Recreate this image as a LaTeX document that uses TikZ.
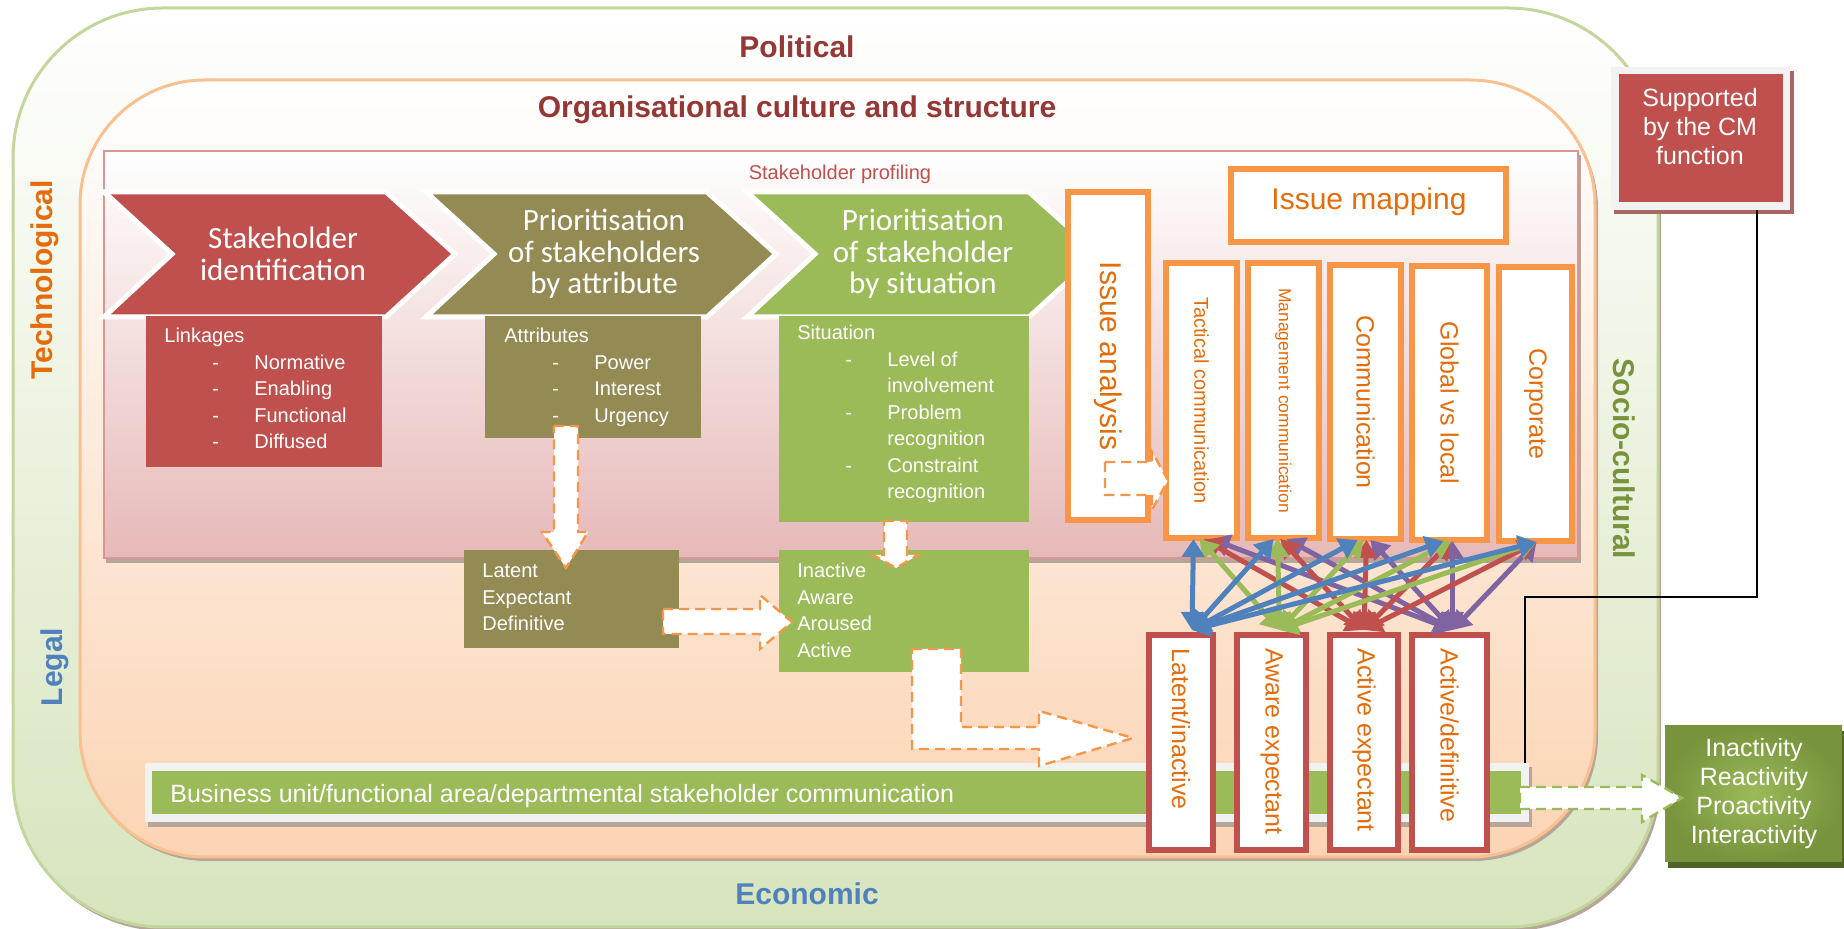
\documentclass[tikz,border=0pt]{standalone}
\usepackage{fontspec}
\setmainfont{Liberation Sans}
\newfontfamily\calib{Carlito}
\usetikzlibrary{arrows.meta,calc}
\definecolor{cred}{HTML}{C0504D}
\definecolor{colive}{HTML}{948A54}
\definecolor{cgreen}{HTML}{9BBB59}
\definecolor{cdgreen}{HTML}{77933C}
\definecolor{corange}{HTML}{F79646}
\definecolor{ctxt}{HTML}{E46C0A}
\definecolor{cblue}{HTML}{4F81BD}
\definecolor{cpurple}{HTML}{8064A2}
\definecolor{cdred}{HTML}{953735}
\definecolor{lgreen}{HTML}{D7E4BD}
\definecolor{lgreenb}{HTML}{C3D69B}
\definecolor{lpeach}{HTML}{FBD4B4}
\definecolor{lpeachb}{HTML}{FAC090}
\definecolor{lpink}{HTML}{E6B9B8}
\definecolor{lpinkb}{HTML}{D99694}
\definecolor{shadc}{HTML}{B5A699}
\definecolor{framec}{HTML}{F2F2F2}
\definecolor{redshad}{HTML}{A86664}
\definecolor{dkgreen}{HTML}{4F6228}
\newcommand\dl{\hspace*{24pt}\makebox[21pt][l]{-}}
\newcommand\dn{\hspace*{45pt}}
\begin{document}
\begin{tikzpicture}[x=0.5pt,y=-0.5pt,
  obox/.style={draw=corange, line width=3pt, fill=white, inner sep=0pt},
  rbox/.style={draw=cred, line width=3pt, fill=white, inner sep=0pt},
  vtext/.style={text=ctxt, rotate=-90, inner sep=0pt},
  ttl/.style={text=white, font=\calib\fontsize{15.5pt}{15.75pt}\selectfont, align=center, inner sep=0pt},
  lst/.style={text=white, anchor=base west, inner sep=0pt, font=\fontsize{10pt}{13.25pt}\selectfont},
  band/.style={font=\bfseries\fontsize{15pt}{15pt}\selectfont, inner sep=0pt, anchor=base},
  blk/.style={fill=white, draw=corange, line width=1.2pt, dash pattern=on 5pt off 3pt, line join=miter},
  gblk/.style={fill=white, draw=cgreen, line width=1.2pt, dash pattern=on 5pt off 3pt, line join=miter},
  panel/.style={inner sep=0pt, outer sep=0pt},
  chev/.style={draw=white, line width=2.5pt, line join=miter},
  net/.style={line width=2.5pt, >={Triangle[length=9pt,width=11pt]}, <->},
  sz/.style={font=\fontsize{#1pt}{#1pt}\selectfont}
]
\useasboundingbox (0,0) rectangle (1844,929);

% ---- containers ----
\fill[shadc,rounded corners=75pt] (15,12) rectangle (1661,931);
\shadedraw[top color=white,bottom color=lgreen,draw=lgreenb,line width=1.5pt,rounded corners=75pt] (13,8) rectangle (1658,927);
\fill[shadc,rounded corners=62.5pt] (82,84) rectangle (1598,861);
\shadedraw[top color=white,bottom color=lpeach,draw=lpeachb,line width=1.5pt,rounded corners=62.5pt] (80,80) rectangle (1595,857);
\fill[shadc] (106,155) rectangle (1581,563);
\shadedraw[top color=white,bottom color=lpink,draw=lpinkb,line width=0.75pt] (104,151) rectangle (1578,558);

% ---- PESTLE labels ----
\node[band,text=cdred] (pol) at (797,58) {Political};
\node[band,text=cdred] (org) at (797,118) {Organisational culture and structure};
\node[band,text=ctxt,rotate=90] (tech) at (52,280) {Technological};
\node[band,text=cblue,rotate=90] (leg) at (62,667) {Legal};
\node[band,text=cblue] (eco) at (807,905) {Economic};
\node[band,text=cdgreen,rotate=-90] (soc) at (1613,459) {Socio-cultural};
\node[sz=10,text=cred,anchor=base,inner sep=0pt] (prof) at (840,180) {Stakeholder profiling};

% ---- chevrons ----
\fill[cred,chev] (104,192) -- (386,192) -- (455,254) -- (386,317) -- (104,317) -- (172,254) -- cycle;
\fill[colive,chev] (426,192) -- (707,192) -- (776,254) -- (707,317) -- (426,317) -- (494,254) -- cycle;
\fill[cgreen,chev] (747,192) -- (1029,192) -- (1098,254) -- (1029,317) -- (747,317) -- (815,254) -- cycle;
\node[panel,fill=cred,minimum width=118pt,minimum height=75.5pt] (r1) at (264,391.5) {};
\node[panel,fill=colive,minimum width=108pt,minimum height=61pt] (r2) at (593,377) {};
\node[panel,fill=cgreen,minimum width=125pt,minimum height=103pt] (r3) at (904,419) {};
\node[ttl] (t1) at (283,254) {Stakeholder\\identification};
\node[ttl] (t2) at (604,254) {Prioritisation\\of stakeholders\\by attribute};
\node[ttl] (t3) at (923,254) {Prioritisation\\of stakeholder\\by situation};
\node[lst] (l1) at (164,343) {\begin{tabular}[t]{@{}l@{}}Linkages\\ \dl Normative\\ \dl Enabling\\ \dl Functional\\ \dl Diffused\end{tabular}};
\node[lst] (l2) at (504,343) {\begin{tabular}[t]{@{}l@{}}Attributes\\ \dl Power\\ \dl Interest\\ \dl Urgency\end{tabular}};
\node[lst] (l3) at (797,340) {\begin{tabular}[t]{@{}l@{}}Situation\\ \dl Level of\\ \dn involvement\\ \dl Problem\\ \dn recognition\\ \dl Constraint\\ \dn recognition\end{tabular}};

% ---- second row boxes ----
\node[panel,fill=colive,minimum width=107.5pt,minimum height=49pt] (latb) at (571.5,599) {};
\node[panel,fill=cgreen,minimum width=125pt,minimum height=61pt] (inab) at (904,611) {};
\node[lst] (l4) at (482,578) {\begin{tabular}[t]{@{}l@{}}Latent\\ Expectant\\ Definitive\end{tabular}};
\node[lst] (l5) at (797,578) {\begin{tabular}[t]{@{}l@{}}Inactive\\ Aware\\ Aroused\\ Active\end{tabular}};

% ---- business unit bar ----
\fill[shadc] (148,767) rectangle (1532,827);
\node[panel,fill=framec,minimum width=692pt,minimum height=29.5pt] (barf) at (837,792.5) {};
\node[panel,fill=cgreen,minimum width=684.5pt,minimum height=21.5pt] (bar) at (836.5,792.5) {};
\node[text=white,sz=12.5,anchor=base west,inner sep=0pt] (bart) at (170,803) {Business unit/functional area/departmental stakeholder communication};

% ---- issue boxes ----
\node[obox,minimum width=40pt,minimum height=164pt] (ia) at (1108,356) {};
\node[vtext,sz=15] (iat) at (ia.center) {Issue analysis};
\node[obox,minimum width=137.5pt,minimum height=36.5pt] (im) at (1368.5,205.5) {};
\node[text=ctxt,sz=15,anchor=base,inner sep=0pt] (imt) at (1369,210) {Issue mapping};
\node[obox,minimum width=35.5pt,minimum height=137.5pt] (tac) at (1201.5,400.5) {};
\node[obox,minimum width=35.5pt,minimum height=137.5pt] (man) at (1283.5,400.5) {};
\node[obox,minimum width=35.5pt,minimum height=137pt] (com) at (1365.5,402) {};
\node[obox,minimum width=37.5pt,minimum height=137pt] (glo) at (1449.5,403) {};
\node[obox,minimum width=36.5pt,minimum height=137pt] (cor) at (1535.5,404) {};
\node[vtext,sz=10] (tact) at (tac.center) {Tactical communication};
\node[vtext,sz=8.75] (mant) at (man.center) {Management communication};
\node[vtext,sz=12.5] (comt) at (com.center) {Communication};
\node[vtext,sz=12.5] (glot) at (glo.center) {Global vs local};
\node[vtext,sz=12.5] (cort) at (cor.center) {Corporate};

% ---- stakeholder type boxes ----
\node[rbox,minimum width=32pt,minimum height=107.5pt] (lat) at (1181,742.5) {};
\node[rbox,minimum width=34.5pt,minimum height=107.5pt] (awa) at (1271.5,742.5) {};
\node[rbox,minimum width=34pt,minimum height=107.5pt] (ace) at (1364,742.5) {};
\node[rbox,minimum width=37.5pt,minimum height=107.5pt] (acd) at (1449.5,742.5) {};
\node[vtext,sz=12.5,anchor=west] (latt) at (1181,648) {Latent/inactive};
\node[vtext,sz=12.5,anchor=west] (awat) at (1271.5,648) {Aware expectant};
\node[vtext,sz=12.5,anchor=west] (acet) at (1364,648) {Active expectant};
\node[vtext,sz=12.5,anchor=west] (acdt) at (1449.5,648) {Active/definitive};

% ---- network of links ----
\foreach \t/\o in {tac/10,man/3,com/5,glo/3,cor/1}
  \draw[net,cpurple] ($(acd.north)+(3,-2)$) -- ($(\t.south)+(\o,-2)$);
\foreach \t/\o in {tac/2,man/-3,com/1,glo/2,cor/1}
  \draw[net,cred] ($(ace.north)+(0,-2)$) -- ($(\t.south)+(\o,-2)$);
\foreach \t/\o in {tac/-2,man/-6,com/-2,glo/2,cor/1}
  \draw[net,cgreen] ($(awa.north)+(8,-2)$) -- ($(\t.south)+(\o,-2)$);
\foreach \t/\o in {tac/-8,man/-10,com/-8,glo/-6,cor/1}
  \draw[net,cblue] ($(lat.north)+(11,-2)$) -- ($(\t.south)+(\o,-2)$);

% ---- dashed block arrows ----
\draw[blk] (554,426) -- (578,426) -- (578,532) -- (588,532) -- (566,568) -- (542,532) -- (554,532) -- cycle;
\draw[blk] (663,609) -- (760,609) -- (760,595) -- (792,622) -- (760,649) -- (760,634) -- (663,634) -- cycle;
\draw[blk] (884,521) -- (907,521) -- (907,555) -- (918,555) -- (896,568) -- (873,555) -- (884,555) -- cycle;
\draw[blk] (912,649) -- (961,649) -- (961,727) -- (1039,727) -- (1039,711) -- (1133,738) -- (1039,766) -- (1039,749) -- (912,749) -- cycle;
\draw[blk] (1105,462) -- (1152,462) -- (1152,452) -- (1168,480) -- (1152,510) -- (1152,495) -- (1105,495) -- cycle;

% ---- CM function box ----
\fill[redshad] (1614,71) rectangle (1794,214);
\node[panel,fill=framec,minimum width=89.5pt,minimum height=71.5pt] (supf) at (1700.5,138.5) {};
\node[panel,fill=cred,minimum width=82pt,minimum height=64pt] (sup) at (1701,138) {};
\node[text=white,sz=12.5,anchor=base,inner sep=0pt] (supt) at (1700,107) {\fontsize{12.5pt}{14.5pt}\selectfont\begin{tabular}[t]{@{}c@{}}Supported\\ by the CM\\ function\end{tabular}};
\coordinate (k1) at (1757,597);
\coordinate (k2) at (1525,597);
\draw[line width=0.8pt] (k1 |- supf.south) -- (k1) -- (k2) -- (k2 |- barf.north);

% ---- outcome box ----
\fill[dkgreen] (1668,731) rectangle (1846,868);
\node[panel,shading=radial,inner color=cgreen,outer color=cdgreen,minimum width=88.5pt,minimum height=68pt] (out) at (1753.5,794) {};
\node[text=white,anchor=base,inner sep=0pt] (outt) at (1754,757) {\fontsize{12.5pt}{14.5pt}\selectfont\begin{tabular}[t]{@{}c@{}}Inactivity\\ Reactivity\\ Proactivity\\ Interactivity\end{tabular}};
\draw[gblk] (1520,787) -- (1642,787) -- (1642,775) -- (1682,798) -- (1642,822) -- (1642,809) -- (1520,809) -- cycle;
\end{tikzpicture}
\end{document}
